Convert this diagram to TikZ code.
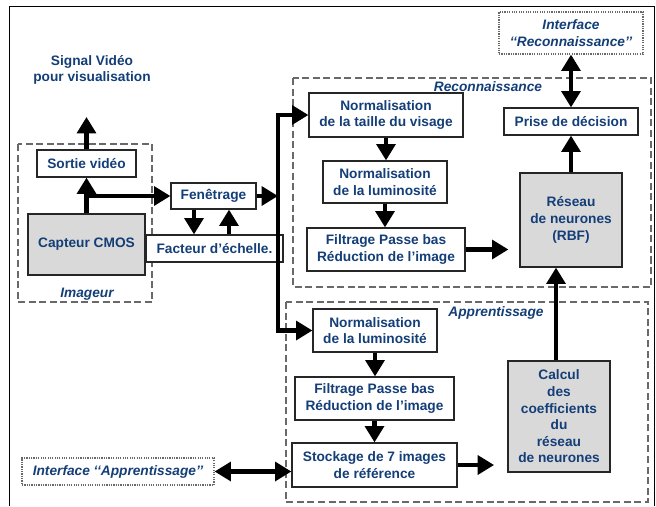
\documentclass[tikz,border=0pt]{standalone}
\usepackage{fontspec}
\setmainfont{Liberation Sans}
\usetikzlibrary{arrows.meta}
\definecolor{textblue}{RGB}{20,62,120}
\definecolor{boxgray}{RGB}{217,217,217}
\definecolor{zonegray}{RGB}{105,105,105}

\begin{document}
\begin{tikzpicture}[
    x=0.03cm, y=-0.03cm,
    font=\fontsize{11.7}{14.2}\selectfont\bfseries,
    >={Triangle[length=14pt,width=16pt]},
    block/.style={
        rectangle,
        draw=black!85,
        line width=1pt,
        fill=white,
        text=textblue,
        align=center,
        inner sep=0pt
    },
    size/.style 2 args={
        minimum width=#1*0.03cm,
        minimum height=#2*0.03cm
    },
    graybox/.style={block, fill=boxgray},
    iface/.style={
        block,
        draw=zonegray,
        densely dotted,
        font=\fontsize{11.7}{14.2}\selectfont\bfseries\itshape
    },
    zone/.style={
        draw=zonegray,
        line width=1.2pt,
        dash pattern=on 6pt off 3pt
    },
    zonelabel/.style={
        text=textblue,
        font=\fontsize{11.7}{14.2}\selectfont\bfseries\itshape
    },
    flow/.style={->, line width=3.6pt},
    flowboth/.style={<->, line width=3.6pt}
]
\useasboundingbox (0,0) rectangle (656,506);

% Outer frame
\draw[line width=0.8pt] (9,506) -- (9,6) -- (654,6) -- (654,506);

% Zones
\draw[zone] (18,144) rectangle (152,302);
\draw[zone] (293,78) rectangle (651,287);
\draw[zone] (286,302) rectangle (648,502);
\node[zonelabel] (imageur) at (87,294) {Imageur};
\node[zonelabel] (reco) at (488,87) {Reconnaissance};
\node[zonelabel] (appr) at (496,313) {Apprentissage};

% Imageur boxes
\node[block, size={99}{27}] (sortie) at (86.5,163.5) {Sortie vidéo};
\node[graybox, size={117}{61}] (capteur) at (86.5,244.5) {Capteur CMOS};
\node[block, size={85}{26}] (fenetre) at (213.5,196) {Fenêtrage};
\node[block, size={137}{27}] (facteur) at (214.5,248.5) {Facteur d’échelle.};
\node[text=textblue, align=center] (signal) at (92,70) {Signal Vidéo\\pour visualisation};
\coordinate (sigout) at (86.5,117);

% Reconnaissance boxes
\node[block, size={154}{44}] (normtaille) at (386,115) {Normalisation\\de la taille du visage};
\node[block, size={124}{42}] (normlumA) at (385,182) {Normalisation\\de la luminosité};
\node[block, size={158}{43}] (filtreA) at (386,249.5) {Filtrage Passe bas\\Réduction de l’image};
\node[block, size={134}{27}] (prise) at (571,121.5) {Prise de décision};
\node[graybox, size={102}{94}] (reseau) at (571,220) {Réseau\\de neurones\\(RBF)};
\node[iface, size={144}{42}] (intreco) at (571,33) {Interface\\‘‘Reconnaissance’’};

% Apprentissage boxes
\node[block, size={124}{43}] (normlumB) at (375,330.5) {Normalisation\\de la luminosité};
\node[block, size={159}{43}] (filtreB) at (374.5,398.5) {Filtrage Passe bas\\Réduction de l’image};
\node[block, size={165}{44}] (stockage) at (374.5,465) {Stockage de 7 images\\de référence};
\node[graybox, size={102}{111}] (calcul) at (559,416.5) {Calcul\\des\\coefficients\\du\\réseau\\de neurones};
\node[iface, size={192}{27}] (intappr) at (118,471.5) {Interface ‘‘Apprentissage’’};

% Bus
\coordinate (bustop) at (278,115);
\coordinate (busbot) at (278,330.5);

% Arrows in the imager
\draw[flow] (capteur.north) -- (sortie.south);
\draw[flow] (sortie.north) -- (sigout);
\draw[flow] (capteur.north |- fenetre.west) -- (fenetre.west);
\draw[flow] ([xshift=-0.585cm]fenetre.south) -- ([xshift=-0.585cm]fenetre.south |- facteur.north);
\draw[flow] ([xshift=0.465cm]fenetre.south |- facteur.north) -- ([xshift=0.465cm]fenetre.south);
\draw[flow] (fenetre.east) -- (fenetre.east -| bustop);

% Bus arrows
\draw[flow] (busbot) -- (bustop) -- (bustop -| normtaille.west);
\draw[flow] (bustop) -- (busbot) -- (busbot -| normlumB.west);

% Reconnaissance arrows
\draw[flow] (normtaille.south) -- (normtaille.south |- normlumA.north);
\draw[flow] (normlumA.south) -- (normlumA.south |- filtreA.north);
\draw[flow, shorten >=0.33cm] (filtreA.east) -- (filtreA.east -| reseau.west);
\draw[flow] (reseau.north) -- (prise.south);
\draw[flowboth] (intreco.south) -- (prise.north);

% Apprentissage arrows
\draw[flow] (normlumB.south) -- (normlumB.south |- filtreB.north);
\draw[flow] (filtreB.south) -- (filtreB.south |- stockage.north);
\draw[flow, shorten >=0.4cm] (stockage.east) -- (stockage.east -| calcul.west);
\draw[flow] ([xshift=-0.09cm]calcul.north) -- ([xshift=-0.09cm]calcul.north |- reseau.south);
\draw[flowboth] (intappr.east) -- (intappr.east -| stockage.west);

\end{tikzpicture}
\end{document}
